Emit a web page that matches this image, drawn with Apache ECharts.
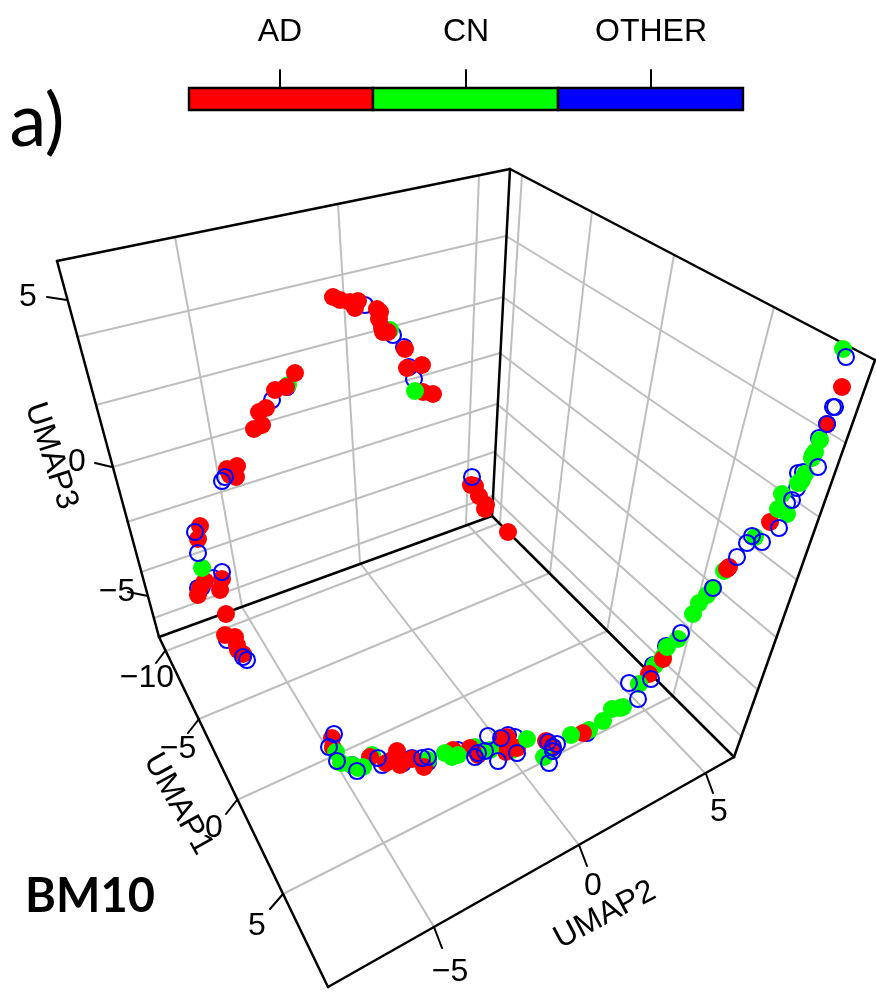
<!DOCTYPE html>
<html><head><meta charset="utf-8">
<style>html,body{margin:0;padding:0;background:#fff}#c{width:876px;height:995px}</style>
<script src="https://cdn.jsdelivr.net/npm/echarts@6/dist/echarts.min.js"></script>
</head><body><div id="c"></div>
<script>
// Points (horizontal, vertical)
const otherBack = [[365,305],[393,335],[404,347],[409,367],[414,379],[287,387],[272,400],[213,578],[202,587],[198,588],[227,640],[352,765],[382,765],[403,763],[428,762],[412,758],[458,750],[508,735],[515,737],[587,733],[653,665],[666,646],[798,473],[803,472],[797,488],[819,438],[787,503]];
const cnBack = [[288,385],[390,330],[372,755],[475,747],[724,571],[655,665],[663,657],[512,750],[589,730],[428,760]];
const adPoints = [[333,297],[340,300],[350,302],[358,301],[355,308],[377,309],[380,312],[379,319],[382,328],[383,332],[388,332],[405,349],[422,365],[407,368],[423,392],[433,394],[295,373],[275,390],[286,387],[266,408],[259,412],[262,425],[254,429],[237,466],[227,469],[236,477],[230,475],[200,526],[198,539],[205,581],[200,588],[198,595],[222,579],[220,590],[226,614],[225,635],[235,637],[237,645],[238,650],[243,654],[471,485],[475,486],[479,496],[486,505],[485,509],[508,532],[332,738],[333,748],[370,757],[386,763],[397,751],[400,765],[392,760],[412,759],[424,767],[453,750],[470,748],[478,755],[502,738],[507,737],[517,748],[506,752],[546,741],[552,748],[583,733],[649,674],[663,659],[729,567],[727,569],[770,522],[827,424],[842,387]];
const cnFront = [[415,391],[202,568],[336,752],[341,763],[352,765],[363,767],[358,768],[445,753],[452,757],[458,755],[490,750],[527,739],[544,757],[571,735],[603,721],[612,709],[623,707],[620,708],[639,684],[667,647],[678,639],[693,614],[699,603],[707,595],[713,588],[755,537],[778,509],[787,514],[782,494],[800,483],[805,474],[798,483],[802,480],[813,455],[812,458],[815,452],[820,440],[843,349]];
const otherFront = [[225,477],[222,481],[195,532],[198,553],[222,572],[243,657],[247,660],[472,477],[334,734],[329,747],[337,761],[357,771],[378,758],[422,758],[428,757],[475,757],[478,753],[485,751],[498,761],[488,736],[501,738],[517,753],[548,742],[557,744],[553,747],[553,751],[549,763],[638,699],[629,683],[651,679],[681,633],[713,588],[737,557],[747,543],[752,536],[762,542],[779,528],[792,500],[818,467],[827,424],[835,407],[833,407],[846,357]];

// Panel outline and grid, as segments on the same plane
const boxEdges = [[57,261,510,169],[510,169,875,360],[875,360,734,757],[734,757,328,987],[328,987,159,637],[159,637,57,261],[510,169,492,516],[492,516,159,637],[492,516,734,757]];
const gridLines = [
 [77,337,506,236],[96,405,503,297],[113,467,500,353],[127,522,497,404],[141,572,494,452],[154,618,492,496],
 [506,236,846,443],[503,297,819,517],[500,353,797,580],[497,404,777,638],[494,452,758,690],[492,496,742,737],
 [175,237,242,607],[338,204,360,563],[479,175,466,523],
 [522,175,500,523],[592,212,550,573],[674,255,607,631],[774,307,673,696],
 [242,607,434,927],[360,563,579,845],[466,523,706,774],
 [166,651,500,523],[199,719,550,573],[237,800,607,631],[283,894,673,696]];
const tickMarks = [[47,297,67,300],[95,463,112,467],[128,592,148,596],
 [165,651,156,663],[199,719,188,733],[237,800,226,814],[283,894,270,909],
 [434,927,442,948],[579,845,587,866],[706,774,713,793],
 [280,70,280,88],[466,70,466,88],[651,70,651,88]];

// Tick labels and their anchors
const zTicks = ['5','0','\u22125'];
const zTickAt = [[28,297],[77,462],[117,592]];
const xTicks = ['\u221210','\u22125','0','5'];
const xTickAt = [[147,678],[178,749],[214,828],[257,926]];
const yTicks = ['\u22125','0','5'];
const yTickAt = [[450,972],[593,886],[719,812]];
const axisTitles = ['UMAP3','UMAP1','UMAP2'];
const axisTitleAt = [[51,456],[178,804],[605,915]];
const axisTitleTurn = [-72,-61,28];

// Colour key
const keyNames = ['AD','CN','OTHER'];
const keyColors = ['#ff0000','#00ff00','#0000ff'];
const keyAt = [[280,32],[466,32],[651,32]];
const keyCells = [[189,88,373,110],[373,88,558,110],[558,88,743,110]];

const sans = '"Liberation Sans", Arial, sans-serif';
const texts = [];
const add = (arr, at, size, family, weight, turn) => arr.forEach((t,i)=>texts.push([at[i][0],at[i][1],t,size,family,weight,turn?turn[i]:0]));
add(zTicks, zTickAt, 32, sans, 'normal');
add(xTicks, xTickAt, 32, sans, 'normal');
add(yTicks, yTickAt, 32, sans, 'normal');
add(axisTitles, axisTitleAt, 32, sans, 'normal', axisTitleTurn);
add(keyNames, keyAt, 32, sans, 'normal');
add(['a)'], [[37,122]], 74, 'Lato, sans-serif', 'normal');
add(['BM10'], [[90,897]], 47, 'Lato, sans-serif', 'bold');

const seg = (s, color, width, z) => ({type:'line', silent:true, showSymbol:false, symbol:'none', clip:false, z,
  data:[[s[0],s[1]],[s[2],s[3]]], lineStyle:{color,width,cap:'round'}, animation:false});
const filled = (data,color,z) => ({type:'scatter', data, z, symbolSize:18, itemStyle:{color,opacity:1}, animation:false, clip:false, silent:true});
const ring = (data,z) => ({type:'scatter', data, z, symbolSize:16, itemStyle:{color:'rgba(0,0,0,0)',borderColor:'#0000ff',borderWidth:2.1,opacity:1}, animation:false, clip:false, silent:true});

const chart = echarts.init(document.getElementById('c'), null, {renderer:'canvas'});
chart.setOption({
  animation:false, backgroundColor:'#fff',
  grid:{left:0,right:0,top:0,bottom:0},
  xAxis:{type:'value',min:0,max:876,show:false},
  yAxis:{type:'value',min:0,max:995,inverse:true,show:false},
  series:[
    ...gridLines.map(s=>seg(s,'#bebebe',2,1)),
    ...boxEdges.map(s=>seg(s,'#000',2.5,2)),
    ...tickMarks.map(s=>seg(s,'#000',2,2)),
    ring(otherBack,3),
    filled(cnBack,'#00ff00',4),
    filled(adPoints,'#ff0000',5),
    filled(cnFront,'#00ff00',6),
    ring(otherFront,7),
    {type:'custom', silent:true, z:8, clip:false, data:keyCells.map((c,i)=>[...c,i]), animation:false,
     renderItem:(p,api)=>{
       const a=api.coord([api.value(0),api.value(1)]), b=api.coord([api.value(2),api.value(3)]);
       return {type:'rect',shape:{x:a[0],y:a[1],width:b[0]-a[0],height:b[1]-a[1]},
               style:{fill:keyColors[api.value(4)],stroke:'#000',lineWidth:2.4}};
     }},
    {type:'custom', silent:true, z:9, clip:false, data:texts.map((t,i)=>[t[0],t[1],i]), animation:false,
     renderItem:(p,api)=>{
       const t=texts[api.value(2)], a=api.coord([api.value(0),api.value(1)]);
       return {type:'text',x:a[0],y:a[1],rotation:t[6]*Math.PI/180,
               style:{text:t[2],fontSize:t[3],fontFamily:t[4],fontWeight:t[5],fill:'#000',align:'center',verticalAlign:'middle'}};
     }}
  ]
});
</script></body></html>
